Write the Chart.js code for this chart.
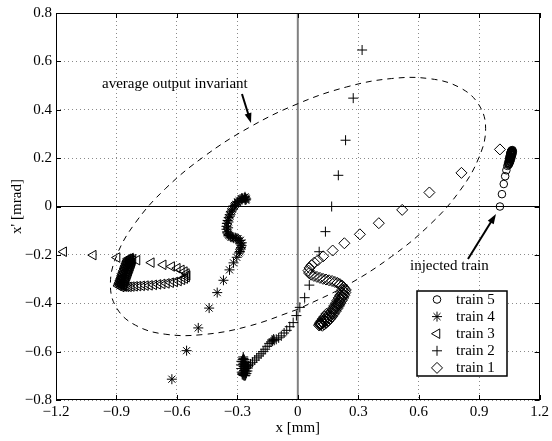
<!DOCTYPE html>
<html>
<head>
<meta charset="utf-8">
<script src="https://cdn.jsdelivr.net/npm/chart.js@4/dist/chart.umd.min.js"></script>
<style>
  html, body { margin: 0; padding: 0; background: #fff; }
  canvas { display: block; }
</style>
</head>
<body>
<canvas id="chart" width="552" height="441"></canvas>
<script>
// axis ticks
const xTicks = [-1.2, -0.9, -0.6, -0.3, 0, 0.3, 0.6, 0.9, 1.2];
const yTicks = [-0.8, -0.6, -0.4, -0.2, 0, 0.2, 0.4, 0.6, 0.8];

// trains, [x mm, x' mrad]
const train5 = [[1.003,0.000],[1.013,0.051],[1.022,0.093],[1.029,0.125],[1.035,0.150],[1.040,0.168],[1.044,0.181],
  [1.048,0.192],[1.051,0.201],[1.053,0.208],[1.055,0.214],[1.057,0.219],[1.058,0.223],[1.059,0.226],[1.059,0.228],
  [1.058,0.227],[1.056,0.223],[1.054,0.217],[1.052,0.210],[1.051,0.203],[1.052,0.198],[1.055,0.200],[1.058,0.206],
  [1.060,0.213],[1.061,0.219],[1.060,0.224],[1.045,0.175],[1.048,0.185],[1.050,0.195],[1.053,0.205],[1.056,0.213],
  [1.059,0.220],[1.062,0.226],[1.064,0.230],[1.062,0.222],[1.060,0.215],[1.057,0.206],[1.055,0.197],[1.052,0.188],
  [1.049,0.180],[1.046,0.172],[1.050,0.178],[1.054,0.186],[1.058,0.196],[1.061,0.205],[1.064,0.214],[1.066,0.222],
  [1.067,0.228],[1.065,0.233],[1.061,0.232]];

const train4 = [[-0.625,-0.714],[-0.552,-0.596],[-0.494,-0.502],[-0.440,-0.420],[-0.400,-0.356],[-0.369,-0.305],
  [-0.339,-0.262],[-0.319,-0.233],[-0.303,-0.210],[-0.292,-0.192],[-0.284,-0.176],[-0.279,-0.162],[-0.278,-0.150],
  [-0.285,-0.140],[-0.297,-0.133],[-0.310,-0.129],[-0.323,-0.126],[-0.335,-0.122],[-0.345,-0.115],[-0.351,-0.105],
  [-0.354,-0.094],[-0.354,-0.082],[-0.352,-0.070],[-0.348,-0.058],[-0.343,-0.046],[-0.338,-0.034],[-0.332,-0.022],
  [-0.325,-0.011],[-0.317,0.000],[-0.309,0.009],[-0.300,0.017],[-0.291,0.024],[-0.282,0.030],[-0.273,0.034],
  [-0.265,0.036],[-0.259,0.035],[-0.256,0.031],[-0.258,0.027],[-0.262,0.028],[-0.288,-0.186],[-0.282,-0.170],
  [-0.284,-0.155],[-0.292,-0.140],[-0.305,-0.133],[-0.318,-0.131],[-0.331,-0.127],[-0.342,-0.120],[-0.349,-0.110],
  [-0.346,-0.088],[-0.344,-0.064],[-0.337,-0.040],[-0.327,-0.018],[-0.314,0.004],[-0.297,0.020],[-0.278,0.033],
  [-0.262,0.040]];

const train3 = [[-1.162,-0.187],[-1.015,-0.201],[-0.897,-0.211],[-0.798,-0.222],[-0.727,-0.232],[-0.668,-0.241],
  [-0.626,-0.248],[-0.598,-0.255],[-0.578,-0.262],[-0.563,-0.269],[-0.553,-0.277],[-0.549,-0.285],[-0.552,-0.292],
  [-0.561,-0.298],[-0.575,-0.303],[-0.592,-0.308],[-0.611,-0.312],[-0.631,-0.315],[-0.652,-0.318],[-0.673,-0.320],
  [-0.694,-0.322],[-0.715,-0.324],[-0.736,-0.326],[-0.756,-0.327],[-0.775,-0.328],[-0.793,-0.329],[-0.810,-0.330],
  [-0.826,-0.331],[-0.840,-0.332],[-0.852,-0.332],[-0.862,-0.331],[-0.870,-0.328],[-0.874,-0.322],[-0.874,-0.314],
  [-0.871,-0.305],[-0.867,-0.296],[-0.862,-0.287],[-0.857,-0.278],[-0.852,-0.269],[-0.847,-0.260],[-0.842,-0.251],
  [-0.838,-0.242],[-0.834,-0.233],[-0.831,-0.225],[-0.829,-0.218],[-0.830,-0.213],[-0.834,-0.216],[-0.840,-0.225],
  [-0.846,-0.236],[-0.852,-0.247],[-0.858,-0.259],[-0.863,-0.271],[-0.868,-0.283],[-0.873,-0.295],[-0.877,-0.307],
  [-0.880,-0.318],[-0.880,-0.327],[-0.876,-0.333],
  [-0.890,-0.328],[-0.887,-0.321],[-0.884,-0.314],[-0.881,-0.307],[-0.878,-0.300],[-0.875,-0.293],[-0.872,-0.286],
  [-0.869,-0.279],[-0.866,-0.272],[-0.863,-0.265],[-0.860,-0.258],[-0.857,-0.251],[-0.854,-0.244],[-0.851,-0.237],
  [-0.848,-0.230],[-0.845,-0.223],[-0.842,-0.216],
  [-0.866,-0.330],[-0.863,-0.323],[-0.860,-0.316],[-0.857,-0.309],[-0.854,-0.302],[-0.851,-0.295],[-0.848,-0.288],
  [-0.845,-0.281],[-0.842,-0.274],[-0.839,-0.267],[-0.836,-0.260],[-0.833,-0.253],[-0.830,-0.246],[-0.827,-0.239],
  [-0.824,-0.232],[-0.821,-0.225],[-0.818,-0.218]];

const train2 = [[0.319,0.647],[0.275,0.448],[0.237,0.274],[0.201,0.129],[0.168,0.000],[0.137,-0.104],[0.106,-0.187],
  [0.057,-0.325],[0.034,-0.377],[0.010,-0.417],[-0.007,-0.451],[-0.023,-0.480],[-0.040,-0.497],[-0.055,-0.512],
  [-0.068,-0.523],[-0.082,-0.535],[-0.095,-0.543],[-0.107,-0.549],[-0.117,-0.553],[-0.125,-0.556],[-0.120,-0.548],
  [-0.128,-0.552],[-0.133,-0.560],[-0.142,-0.566],[-0.152,-0.578],[-0.162,-0.590],[-0.172,-0.600],[-0.182,-0.609],
  [-0.193,-0.618],[-0.204,-0.626],[-0.214,-0.635],[-0.225,-0.644],[-0.235,-0.651],[-0.244,-0.658],[-0.252,-0.664],
  [-0.259,-0.670],[-0.265,-0.677],[-0.270,-0.684],[-0.273,-0.690],[-0.272,-0.696],[-0.266,-0.699],[-0.259,-0.697],
  [-0.255,-0.690],[-0.256,-0.681],[-0.261,-0.672],[-0.267,-0.662],[-0.272,-0.652],[-0.275,-0.642],[-0.274,-0.633],
  [-0.270,-0.628],[-0.265,-0.633],[-0.262,-0.643],[-0.262,-0.655],[-0.264,-0.667],[-0.266,-0.678],
  [-0.280,-0.640],[-0.282,-0.655],[-0.281,-0.670],[-0.278,-0.685],[-0.250,-0.680],[-0.248,-0.668],[-0.252,-0.655],
  [-0.258,-0.645],[-0.268,-0.698],[-0.276,-0.694],[-0.262,-0.688],[-0.268,-0.648],[-0.270,-0.660],[-0.258,-0.662],
  [-0.262,-0.700],[-0.271,-0.622]];

const train1 = [[1.003,0.236],[0.812,0.139],[0.653,0.058],[0.518,-0.014],[0.402,-0.069],[0.308,-0.115],[0.231,-0.152],
  [0.173,-0.182],[0.126,-0.206],[0.100,-0.222],[0.082,-0.232],[0.068,-0.243],[0.058,-0.254],[0.053,-0.265],
  [0.056,-0.275],[0.066,-0.282],[0.080,-0.287],[0.095,-0.291],[0.110,-0.295],[0.125,-0.299],[0.140,-0.302],
  [0.155,-0.305],[0.170,-0.308],[0.184,-0.312],[0.197,-0.316],[0.209,-0.321],[0.219,-0.327],[0.227,-0.334],
  [0.231,-0.342],[0.230,-0.351],[0.226,-0.361],[0.220,-0.371],[0.213,-0.381],[0.206,-0.391],[0.199,-0.401],
  [0.192,-0.411],[0.185,-0.421],[0.177,-0.431],[0.169,-0.441],[0.161,-0.451],[0.153,-0.460],[0.144,-0.468],
  [0.135,-0.475],[0.126,-0.481],[0.118,-0.486],[0.112,-0.489],[0.108,-0.488],[0.110,-0.482],[0.116,-0.474],
  [0.124,-0.465],[0.133,-0.455],[0.142,-0.444],
  [0.238,-0.345],[0.236,-0.356],[0.231,-0.367],[0.225,-0.378],[0.218,-0.389],[0.211,-0.400],[0.204,-0.411],
  [0.196,-0.422],[0.188,-0.433],[0.179,-0.444],[0.170,-0.455],[0.161,-0.464],[0.151,-0.473],[0.141,-0.481],
  [0.131,-0.488],[0.122,-0.493],
  [0.220,-0.345],[0.216,-0.356],[0.210,-0.367],[0.203,-0.378],[0.196,-0.389],[0.189,-0.400],[0.181,-0.411],
  [0.173,-0.422],[0.165,-0.433],[0.157,-0.443],[0.148,-0.453],[0.139,-0.462],[0.130,-0.470],[0.121,-0.477],
  [0.113,-0.483],[0.106,-0.492]];

// dashed "average output invariant" contour
const invariant = [[0.000,-0.425],[-0.241,-0.494],[-0.465,-0.529],[-0.658,-0.528],[-0.805,-0.491],[-0.898,-0.421],
  [-0.930,-0.322],[-0.898,-0.201],[-0.805,-0.066],[-0.658,0.073],[-0.465,0.207],[-0.241,0.327],[0.000,0.425],
  [0.241,0.494],[0.465,0.529],[0.658,0.528],[0.805,0.491],[0.898,0.421],[0.932,0.322],[0.898,0.201],[0.805,0.066],
  [0.658,-0.073],[0.465,-0.207],[0.241,-0.327],[0.000,-0.425]];

const zeroX = [[-1.2,0],[1.2,0]];
const zeroY = [[0,-0.8],[0,0.8]];

const legendNames = ['train 5', 'train 4', 'train 3', 'train 2', 'train 1'];

const serif = '"Liberation Serif", "Times New Roman", serif';
const xy = arr => arr.map(p => ({x: p[0], y: p[1]}));
const fmt = v => Math.abs(v) < 1e-9 ? '0' : (v < 0 ? '\u2212' + (-v).toFixed(1) : v.toFixed(1));

const trainSet = (label, data, style, r, rot) => ({
  label: label, data: xy(data), showLine: false,
  pointStyle: style, pointRadius: r, pointRotation: rot || 0,
  pointBorderColor: '#000', pointBackgroundColor: 'rgba(0,0,0,0)', pointBorderWidth: 1,
  pointHoverRadius: r, order: 1
});

const markers = {
  'train 5': {pointStyle: 'circle', radius: 3.8, rotation: 0},
  'train 4': {pointStyle: 'star', radius: 5, rotation: 0},
  'train 3': {pointStyle: 'triangle', radius: 5.5, rotation: 270},
  'train 2': {pointStyle: 'cross', radius: 5, rotation: 0},
  'train 1': {pointStyle: 'rectRot', radius: 5.5, rotation: 0}
};

function arrow(ctx, x1, y1, x2, y2) {
  const ang = Math.atan2(y2 - y1, x2 - x1);
  ctx.beginPath();
  ctx.moveTo(x1, y1);
  ctx.lineTo(x2 - 6 * Math.cos(ang), y2 - 6 * Math.sin(ang));
  ctx.lineWidth = 2;
  ctx.stroke();
  ctx.beginPath();
  ctx.moveTo(x2, y2);
  ctx.lineTo(x2 - 10 * Math.cos(ang) + 3.5 * Math.sin(ang), y2 - 10 * Math.sin(ang) - 3.5 * Math.cos(ang));
  ctx.lineTo(x2 - 10 * Math.cos(ang) - 3.5 * Math.sin(ang), y2 - 10 * Math.sin(ang) + 3.5 * Math.cos(ang));
  ctx.closePath();
  ctx.fill();
}

const frame = {
  id: 'frame',
  afterDraw(chart) {
    const {ctx, chartArea: a} = chart;
    const sx = chart.scales.x, sy = chart.scales.y;
    ctx.save();
    ctx.strokeStyle = '#000';
    ctx.fillStyle = '#000';
    ctx.lineWidth = 1;
    ctx.strokeRect(Math.round(a.left) + 0.5, Math.round(a.top) + 0.5,
      Math.round(a.right - a.left) - 1, Math.round(a.bottom - a.top) - 1);

    // inward tick marks on all sides
    ctx.beginPath();
    xTicks.forEach(v => {
      const p = Math.round(sx.getPixelForValue(v)) + 0.5;
      ctx.moveTo(p, a.bottom); ctx.lineTo(p, a.bottom - 5);
      ctx.moveTo(p, a.top); ctx.lineTo(p, a.top + 5);
    });
    yTicks.forEach(v => {
      const p = Math.round(sy.getPixelForValue(v)) + 0.5;
      ctx.moveTo(a.left, p); ctx.lineTo(a.left + 5, p);
      ctx.moveTo(a.right, p); ctx.lineTo(a.right - 5, p);
    });
    ctx.stroke();

    // annotations
    ctx.font = '15px ' + serif;
    ctx.textBaseline = 'middle';
    ctx.textAlign = 'left';
    ctx.fillText('average output invariant', 102, 84);
    ctx.fillText('injected train', 410, 266);
    arrow(ctx, 242, 94, 251, 123);
    arrow(ctx, 468, 259, 496, 214);

    // legend box
    const bx = 417, by = 291, bw = 90, bh = 85;
    ctx.fillStyle = '#fff';
    ctx.fillRect(bx, by, bw, bh);
    ctx.lineWidth = 1.5;
    ctx.strokeRect(bx, by, bw, bh);
    ctx.lineWidth = 1;
    legendNames.forEach((name, i) => {
      const yy = by + 8.5 + i * 17.1;
      ctx.fillStyle = 'rgba(0,0,0,0)';
      ctx.strokeStyle = '#000';
      Chart.helpers.drawPoint(ctx, Object.assign({borderWidth: 1}, markers[name]), 437, yy);
      ctx.fillStyle = '#000';
      ctx.fillText(name, 456, yy + 0.5);
    });
    ctx.restore();
  }
};

const tickFont = {family: serif, size: 15};

new Chart(document.getElementById('chart'), {
  type: 'scatter',
  data: {
    datasets: [
      trainSet('train 5', train5, 'circle', 3.8),
      trainSet('train 4', train4, 'star', 5),
      trainSet('train 3', train3, 'triangle', 5.5, 270),
      trainSet('train 2', train2, 'cross', 5),
      trainSet('train 1', train1, 'rectRot', 5.5),
      {label: 'invariant', data: xy(invariant), showLine: true, pointRadius: 0, borderColor: '#000',
        borderWidth: 1, borderDash: [6, 5], tension: 0.4, fill: false, order: 2},
      {label: 'x0', data: xy(zeroX), showLine: true, pointRadius: 0, borderColor: '#000', borderWidth: 1, order: 3},
      {label: 'y0', data: xy(zeroY), showLine: true, pointRadius: 0, borderColor: '#808080', borderWidth: 2, order: 3}
    ]
  },
  options: {
    responsive: false,
    animation: false,
    events: [],
    layout: {padding: {left: 0, right: 8, top: 13, bottom: 0}},
    plugins: {legend: {display: false}, tooltip: {enabled: false}},
    scales: {
      x: {
        type: 'linear', min: -1.2, max: 1.2,
        afterBuildTicks: s => { s.ticks = xTicks.map(v => ({value: v})); },
        afterFit: s => { s.height = 41; },
        grid: {color: '#8a8a8a', lineWidth: 1, drawTicks: false},
        border: {display: false, dash: [1, 3]},
        ticks: {font: tickFont, color: '#000', padding: 3, maxRotation: 0, autoSkip: false, callback: fmt},
        title: {display: true, text: 'x [mm]', font: tickFont, color: '#000', padding: {top: 0, bottom: 4}}
      },
      y: {
        type: 'linear', min: -0.8, max: 0.8,
        afterBuildTicks: s => { s.ticks = yTicks.map(v => ({value: v})); },
        afterFit: s => { s.width = 56; },
        grid: {color: '#8a8a8a', lineWidth: 1, drawTicks: false},
        border: {display: false, dash: [1, 3]},
        ticks: {font: tickFont, color: '#000', padding: 4, autoSkip: false, callback: fmt},
        title: {display: true, text: "x' [mrad]", font: tickFont, color: '#000', padding: {top: 8, bottom: 0}}
      }
    }
  },
  plugins: [frame]
});
</script>
</body>
</html>
